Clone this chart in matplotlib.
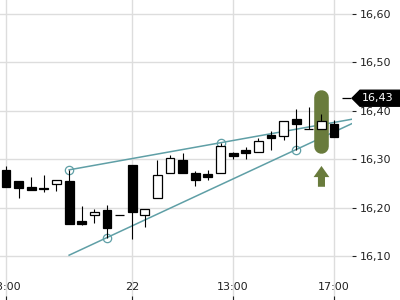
import matplotlib
matplotlib.use("Agg")
import matplotlib.pyplot as plt
from matplotlib.patches import Polygon, FancyArrow
from matplotlib.ticker import FuncFormatter
from matplotlib.transforms import IdentityTransform

# --- candle data (30 min bars) ---
opens  = [16.278, 16.254, 16.243, 16.240, 16.249, 16.254, 16.173, 16.184, 16.194, 16.184,
          16.289, 16.184, 16.219, 16.272, 16.299, 16.272, 16.270, 16.272, 16.313, 16.320,
          16.315, 16.351, 16.348, 16.384, 16.363, 16.363, 16.373, 16.426]
highs  = [16.285, 16.254, 16.264, 16.268, 16.258, 16.278, 16.204, 16.198, 16.206, 16.184,
          16.289, 16.198, 16.299, 16.309, 16.313, 16.276, 16.278, 16.334, 16.315, 16.326,
          16.344, 16.359, 16.379, 16.404, 16.408, 16.394, 16.381, 16.426]
lows   = [16.243, 16.219, 16.237, 16.233, 16.235, 16.167, 16.165, 16.169, 16.138, 16.184,
          16.136, 16.159, 16.219, 16.272, 16.272, 16.245, 16.256, 16.272, 16.301, 16.301,
          16.315, 16.320, 16.340, 16.320, 16.363, 16.363, 16.346, 16.426]
closes = [16.243, 16.241, 16.237, 16.239, 16.256, 16.167, 16.167, 16.190, 16.157, 16.184,
          16.190, 16.198, 16.268, 16.303, 16.272, 16.258, 16.264, 16.328, 16.307, 16.313,
          16.338, 16.344, 16.379, 16.373, 16.363, 16.379, 16.346, 16.426]

tick_idx = [0, 10, 18, 26]
tick_labels = ["13:00", "22", "13:00", "17:00"]
y_ticks = [16.10, 16.20, 16.30, 16.40, 16.50, 16.60]

# trend line pivots (index, price)
upper_pivots = [(5, 16.278), (17, 16.334)]
lower_pivots = [(8, 16.138), (23, 16.320)]
line_start = 5

# signal highlight
signal_idx = 25
signal_range = (16.328, 16.428)
signal_arrow = (16.243, 16.286)

teal = "#5f9fa6"
olive = "#697b3c"

fig = plt.figure(figsize=(4, 3), dpi=100)
ax = fig.add_axes([0, 0, 352 / 400, 1])

n = len(opens)
xs = list(range(n))
ax.set_xlim(-0.477, 27.42)
ax.set_ylim(16.009, 16.629)

# grid
ax.set_yticks(y_ticks)
ax.set_xticks(tick_idx)
ax.set_xticklabels(tick_labels)
ax.grid(True, color="#dddddd", linewidth=1, zorder=0)
ax.set_axisbelow(True)
for s in ax.spines.values():
    s.set_visible(False)

# trend lines
x_end = 28
for piv in (upper_pivots, lower_pivots):
    (x1, y1), (x2, y2) = piv
    k = (y2 - y1) / (x2 - x1)
    ax.plot([line_start, x_end], [y1 + k * (line_start - x1), y1 + k * (x_end - x1)],
            color=teal, lw=1.1, zorder=2)
    ax.plot([x1, x2], [y1, y2], "o", ms=6, mfc="none", mec=teal, mew=0.9, zorder=2)

# signal highlight
ax.plot([signal_idx, signal_idx], signal_range, color=olive, lw=10.5,
        solid_capstyle="round", zorder=3)
ax.add_patch(FancyArrow(signal_idx, signal_arrow[0], 0, signal_arrow[1] - signal_arrow[0],
                        width=0.56, head_width=1.25, head_length=0.023,
                        length_includes_head=True, color=olive, lw=0, zorder=3))

# candles
ax.vlines(xs, lows, highs, color="black", lw=0.8, zorder=4)
bottoms = [min(o, c) for o, c in zip(opens, closes)]
heights = [abs(c - o) for o, c in zip(opens, closes)]
colors = ["white" if c > o else "black" for o, c in zip(opens, closes)]
ax.bar(xs, heights, bottom=bottoms, width=0.7, color=colors, edgecolor="black",
       linewidth=0.9, zorder=5)

# axes ticks
ax.yaxis.tick_right()
ax.yaxis.set_major_formatter(FuncFormatter(lambda v, p: f"{v:.2f}".replace(".", ",")))
ax.tick_params(axis="y", direction="out", length=3, width=0.8, pad=2.5,
               labelsize=8, colors="#222222")
ax.tick_params(axis="x", direction="in", length=3, width=0.8, pad=-13,
               labelsize=8, colors="#222222")

# last price label
fig.canvas.draw()
last = closes[-1]
xd = ax.transAxes.transform((1, 0))[0]
yd = ax.transData.transform((0, last))[1]
poly = Polygon([(xd, yd), (xd + 8, yd + 8), (xd + 60, yd + 8), (xd + 60, yd - 8),
                (xd + 8, yd - 8)], closed=True, color="black",
               transform=IdentityTransform(), zorder=10)
fig.add_artist(poly)
fig.text((xd + 10) / 400, yd / 300, f"{last:.2f}".replace(".", ","), color="white",
         fontsize=8, va="center", ha="left", zorder=11)

fig.savefig("out.png", dpi=100)
